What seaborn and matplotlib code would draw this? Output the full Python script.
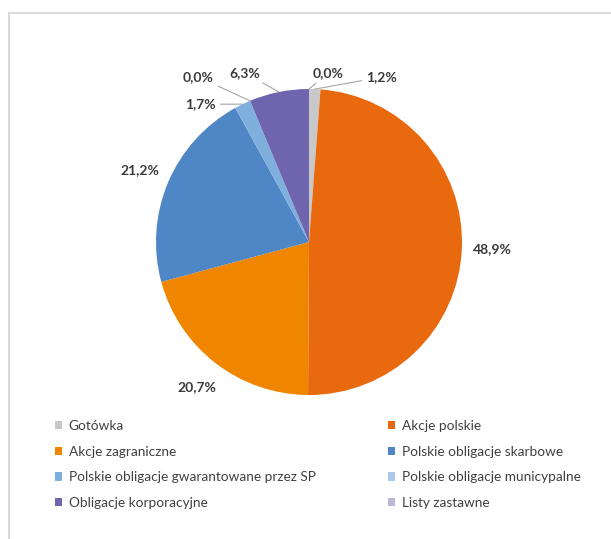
import numpy as np
import matplotlib
matplotlib.use("Agg")
import matplotlib.pyplot as plt
from matplotlib.patches import Patch
from matplotlib.lines import Line2D
import seaborn as sns

categories = ["Gotówka", "Akcje polskie", "Akcje zagraniczne", "Polskie obligacje skarbowe",
              "Polskie obligacje gwarantowane przez SP", "Polskie obligacje municypalne",
              "Obligacje korporacyjne", "Listy zastawne"]
values = [1.2, 48.9, 20.7, 21.2, 1.7, 0.0, 6.3, 0.0]
colors = sns.color_palette(["#C8C8C8", "#E9690F", "#F08600", "#4F86C6",
                            "#7FAFDD", "#A8C9EA", "#6F64AE", "#BDB7DA"])

sns.set_theme(style="white")
plt.rcParams["font.family"] = ["Lato", "DejaVu Sans"]

W, H = 611, 539
fig = plt.figure(figsize=(W / 100, H / 100), dpi=100)
ax = fig.add_axes([0, 0, 1, 1])

cx, cy, R = 309, H - 242, 153
ax.pie(values, colors=colors, startangle=90, counterclock=False,
       center=(cx, cy), radius=R, wedgeprops=dict(linewidth=0))
ax.set_xlim(0, W)
ax.set_ylim(0, H)
ax.set_aspect("equal")
ax.axis("off")

# wedge angles from data
vals = np.array(values)
frac = vals / vals.sum()
ends = 90 - 360 * np.cumsum(frac)
starts = ends + 360 * frac
mids = (starts + ends) / 2

def fmt(v):
    return f"{v:.1f}".replace(".", ",") + "%"

label_kw = dict(fontsize=10, fontweight="bold", color="#3A3A3A", ha="center", va="center")

# large slices: label outside at 1.2 R
for i in [1, 2, 3]:
    a = np.deg2rad(mids[i])
    ax.text(cx + 1.2 * R * np.cos(a), cy + 1.2 * R * np.sin(a), fmt(values[i]), **label_kw)

# small slices: label with leader line (anchor angle, text offset in px)
small = {0: (mids[0], (67, 12)), 4: (mids[4], (-42, 0)), 5: (starts[5], (-52, 24)),
         6: (mids[6], (-34, 19)), 7: (starts[7] if values[7] == 0 else mids[7], (19, 16))}
for i, (ang, (ox, oy)) in small.items():
    a = np.deg2rad(ang)
    px, py = cx + R * np.cos(a), cy + R * np.sin(a)
    ax.annotate(fmt(values[i]), xy=(px, py), xytext=(px + ox, py + oy), textcoords="data",
                arrowprops=dict(arrowstyle="-", color="#A6A6A6", lw=0.8, shrinkA=1, shrinkB=0),
                **label_kw)

# legend (Excel-style two columns, row-wise order)
handles = [Patch(facecolor=c, edgecolor="none") for c in colors]
leg_kw = dict(frameon=False, fontsize=9.8, labelcolor="#404040", handlelength=0.55,
              handleheight=0.55, handletextpad=0.45, labelspacing=1.0, borderpad=0,
              borderaxespad=0, loc="upper left")
left_idx = [0, 2, 4, 6]
right_idx = [1, 3, 5, 7]
leg1 = fig.legend([handles[i] for i in left_idx], [categories[i] for i in left_idx],
                  bbox_to_anchor=(55 / W, 1 - 420 / H), **leg_kw)
leg2 = fig.legend([handles[i] for i in right_idx], [categories[i] for i in right_idx],
                  bbox_to_anchor=(388 / W, 1 - 420 / H), **leg_kw)

# chart-area border (partially cropped)
fig.add_artist(Line2D([9 / W, 9 / W, 1.0], [0.0, 1 - 13 / H, 1 - 13 / H],
                      transform=fig.transFigure, color="#D9D9D9", lw=1.5))

fig.savefig("out.png", dpi=100, facecolor="white")
